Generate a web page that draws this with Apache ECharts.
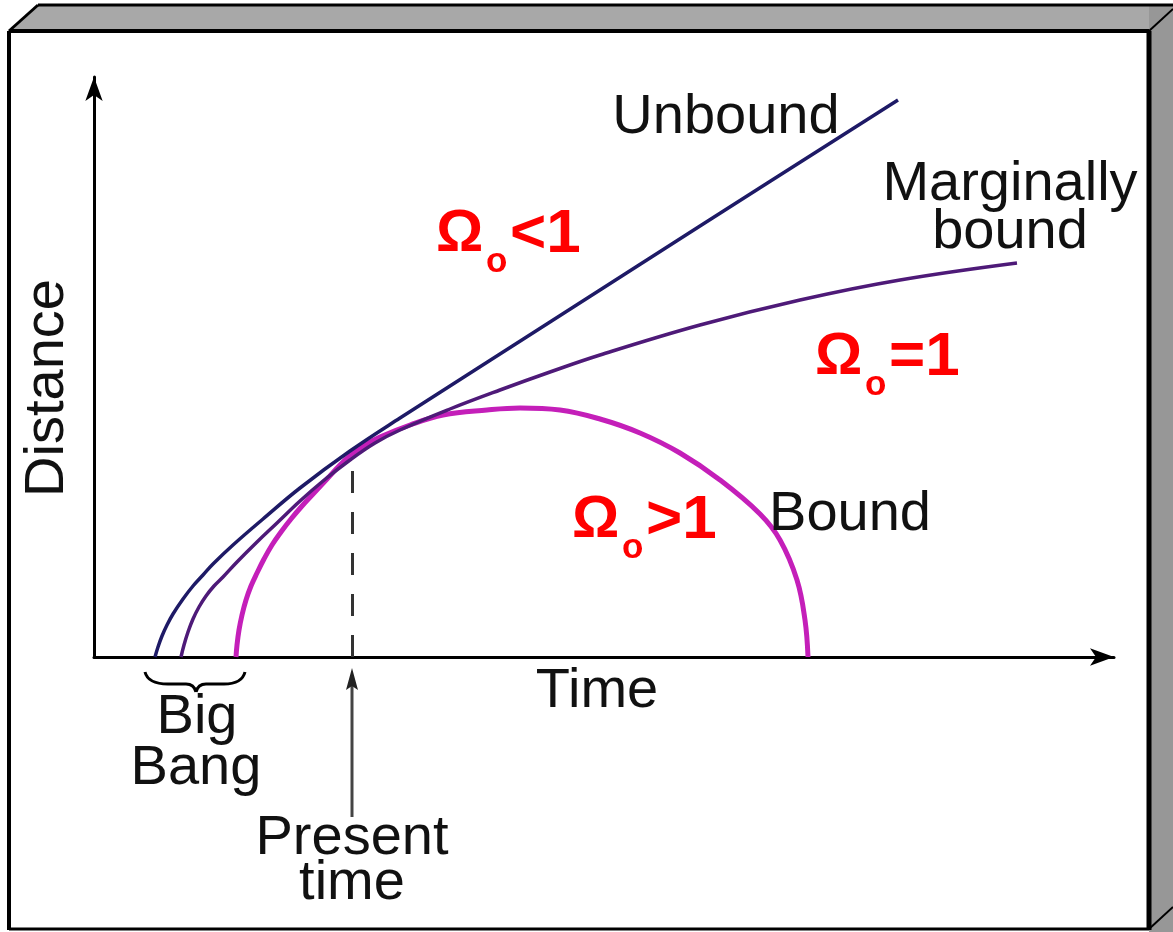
<!DOCTYPE html>
<html>
<head>
<meta charset="utf-8">
<script src="https://cdn.jsdelivr.net/npm/echarts@6/dist/echarts.min.js"></script>
<style>
html, body { margin: 0; padding: 0; background: #fff; }
#chart { width: 1173px; height: 932px; }
</style>
</head>
<body>
<div id="chart"></div>
<script>
// curves (arbitrary units)
var unboundT = [0.61, 0.64, 0.68, 0.73, 0.79, 0.89, 0.99, 1.09, 1.19, 1.39, 1.69, 2.06, 2.56, 3.06, 4.56, 6.06, 8.04];
var unboundD = [0, 0.10, 0.21, 0.32, 0.43, 0.58, 0.71, 0.82, 0.93, 1.12, 1.38, 1.69, 2.06, 2.39, 3.35, 4.31, 5.57];

var marginalT = [0.87, 0.90, 0.94, 0.99, 1.05, 1.12, 1.20, 1.29, 1.43, 1.63, 1.83, 2.06, 2.29, 2.56, 2.81, 3.06, 3.56, 4.06, 4.56, 5.06, 6.06, 7.06, 8.06, 9.23];
var marginalD = [0, 0.12, 0.25, 0.38, 0.50, 0.61, 0.71, 0.80, 0.95, 1.15, 1.34, 1.56, 1.76, 1.97, 2.14, 2.27, 2.48, 2.67, 2.85, 3.02, 3.32, 3.57, 3.77, 3.94];

var boundT = [1.42, 1.43, 1.45, 1.48, 1.52, 1.57, 1.63, 1.70, 1.78, 1.87, 1.97, 2.08, 2.20, 2.33, 2.46, 2.58, 2.71, 2.86, 3.16, 3.49, 3.93, 4.26, 4.66, 5.06, 5.46, 5.86, 6.26, 6.66, 6.86, 7.03, 7.11, 7.14];
var boundD = [0, 0.12, 0.27, 0.42, 0.57, 0.71, 0.84, 0.98, 1.12, 1.25, 1.38, 1.51, 1.64, 1.78, 1.92, 2.03, 2.12, 2.20, 2.32, 2.42, 2.47, 2.49, 2.47, 2.38, 2.24, 2.04, 1.77, 1.43, 1.17, 0.77, 0.37, 0];

var presentT = 2.58;
var presentD = 2.04;

function pairs(t, d) {
    return t.map(function (v, i) { return [v, d[i]]; });
}

var FONT = '"Liberation Sans", Arial, sans-serif';

function label(s, x, y, extra) {
    var el = {
        type: 'text',
        x: x,
        y: y,
        z: 10,
        style: {
            text: s,
            x: 0,
            y: 0,
            fill: '#111',
            font: '56px ' + FONT,
            align: 'center',
            textAlign: 'center',
            verticalAlign: 'middle',
            textVerticalAlign: 'middle'
        }
    };
    if (extra) {
        for (var k in extra) el[k] = extra[k];
    }
    return el;
}

function omega(x, y, rest) {
    var red = '#ff0000';
    function part(s, px, py, size) {
        return {
            type: 'text', x: px, y: py, z: 10,
            style: {
                text: s, x: 0, y: 0, fill: red,
                font: 'bold ' + size + 'px ' + FONT,
                align: 'left', textAlign: 'left',
                verticalAlign: 'middle', textVerticalAlign: 'middle'
            }
        };
    }
    return [
        part('Ω', x, y, 59),
        part('o', x + 50, y + 27, 35),
        part(rest, x + 74, y, 62)
    ];
}

function seg(points, width, color) {
    return {
        type: 'polyline', z: 20, silent: true,
        shape: { points: points },
        style: { stroke: color || '#000', lineWidth: width, fill: null }
    };
}

function curve(x1, y1, cx, cy, x2, y2) {
    return {
        type: 'bezierCurve', z: 20, silent: true,
        shape: { x1: x1, y1: y1, cpx1: cx, cpy1: cy, x2: x2, y2: y2 },
        style: { stroke: '#000', lineWidth: 3, fill: null }
    };
}

var dom = document.getElementById('chart');
var myChart = echarts.init(dom);

var option = {
    backgroundColor: '#fff',
    animation: false,
    grid: { left: 94, top: 77, width: 1020, height: 580 },
    xAxis: {
        type: 'value', min: 0, max: 10.2,
        axisLine: {
            lineStyle: { color: '#000', width: 3 },
            symbol: ['none', 'arrow'],
            symbolSize: [13, 24],
            symbolOffset: [0, 0]
        },
        axisTick: { show: false },
        axisLabel: { show: false },
        splitLine: { show: false }
    },
    yAxis: {
        type: 'value', min: 0, max: 5.8,
        axisLine: {
            lineStyle: { color: '#000', width: 3 },
            symbol: ['none', 'arrow'],
            symbolSize: [13, 24],
            symbolOffset: [0, 0]
        },
        axisTick: { show: false },
        axisLabel: { show: false },
        splitLine: { show: false }
    },
    series: [
        {
            name: 'Bound', type: 'line', data: pairs(boundT, boundD),
            smooth: 0.4, showSymbol: false, silent: true,
            lineStyle: { color: '#c41fb9', width: 5 },
            markLine: {
                silent: true, symbol: 'none', label: { show: false },
                lineStyle: { color: '#333', width: 3, type: [22, 19] },
                data: [[{ coord: [presentT, 0] }, { coord: [presentT, presentD] }]]
            }
        },
        {
            name: 'Marginally bound', type: 'line', data: pairs(marginalT, marginalD),
            smooth: 0.4, showSymbol: false, silent: true,
            lineStyle: { color: '#4e1a78', width: 3.5 }
        },
        {
            name: 'Unbound', type: 'line', data: pairs(unboundT, unboundD),
            smooth: 0.4, showSymbol: false, silent: true,
            lineStyle: { color: '#1e1a66', width: 3.5 }
        }
    ]
};
myChart.setOption(option);

// present time arrow below the axis, placed from the data coordinate
var px = myChart.convertToPixel({ gridIndex: 0 }, [presentT, 0])[0];

var graphics = [
    // 3D frame
    { type: 'polygon', z: 1, silent: true, shape: { points: [[9, 31], [38, 5], [1173, 5], [1173, 31]] }, style: { fill: '#a8a8a8' } },
    { type: 'rect', z: 1, silent: true, shape: { x: 1149, y: 5, width: 24, height: 927 }, style: { fill: '#979797' } },
    seg([[38, 5], [1173, 5]], 3),
    seg([[9, 31], [1149, 31]], 4),
    seg([[9, 31], [38, 5]], 3),
    seg([[9, 31], [9, 930]], 4),
    seg([[1149, 31], [1149, 930]], 5),
    seg([[9, 929], [1149, 929]], 3),
    seg([[1149, 31], [1173, 9]], 2),
    seg([[1149, 929], [1173, 907]], 2),

    // Big Bang brace
    curve(145, 672, 148, 684, 168, 684),
    seg([[168, 684], [186, 684]], 3),
    curve(186, 684, 194, 684, 196, 692),
    curve(196, 692, 198, 684, 206, 684),
    seg([[206, 684], [224, 684]], 3),
    curve(224, 684, 242, 684, 245, 672),

    // arrow to the axis
    seg([[px, 817], [px, 685]], 3, '#444'),
    {
        type: 'polygon', z: 20, silent: true,
        shape: { points: [[px, 668], [px + 6, 690], [px, 686], [px - 6, 690]] },
        style: { fill: '#222' }
    },

    label('Unbound', 726, 118),
    label('Marginally', 1010, 185),
    label('bound', 1010, 233),
    label('Bound', 850, 515),
    label('Time', 597, 692),
    label('Distance', 48, 388, { rotation: Math.PI / 2 }),
    label('Big', 197, 718),
    label('Bang', 196, 769),
    label('Present', 352, 839),
    label('time', 352, 884)
];
graphics = graphics.concat(omega(436, 235, '<1'), omega(815, 358, '=1'), omega(572, 521, '>1'));

myChart.setOption({ graphic: graphics });
</script>
</body>
</html>
